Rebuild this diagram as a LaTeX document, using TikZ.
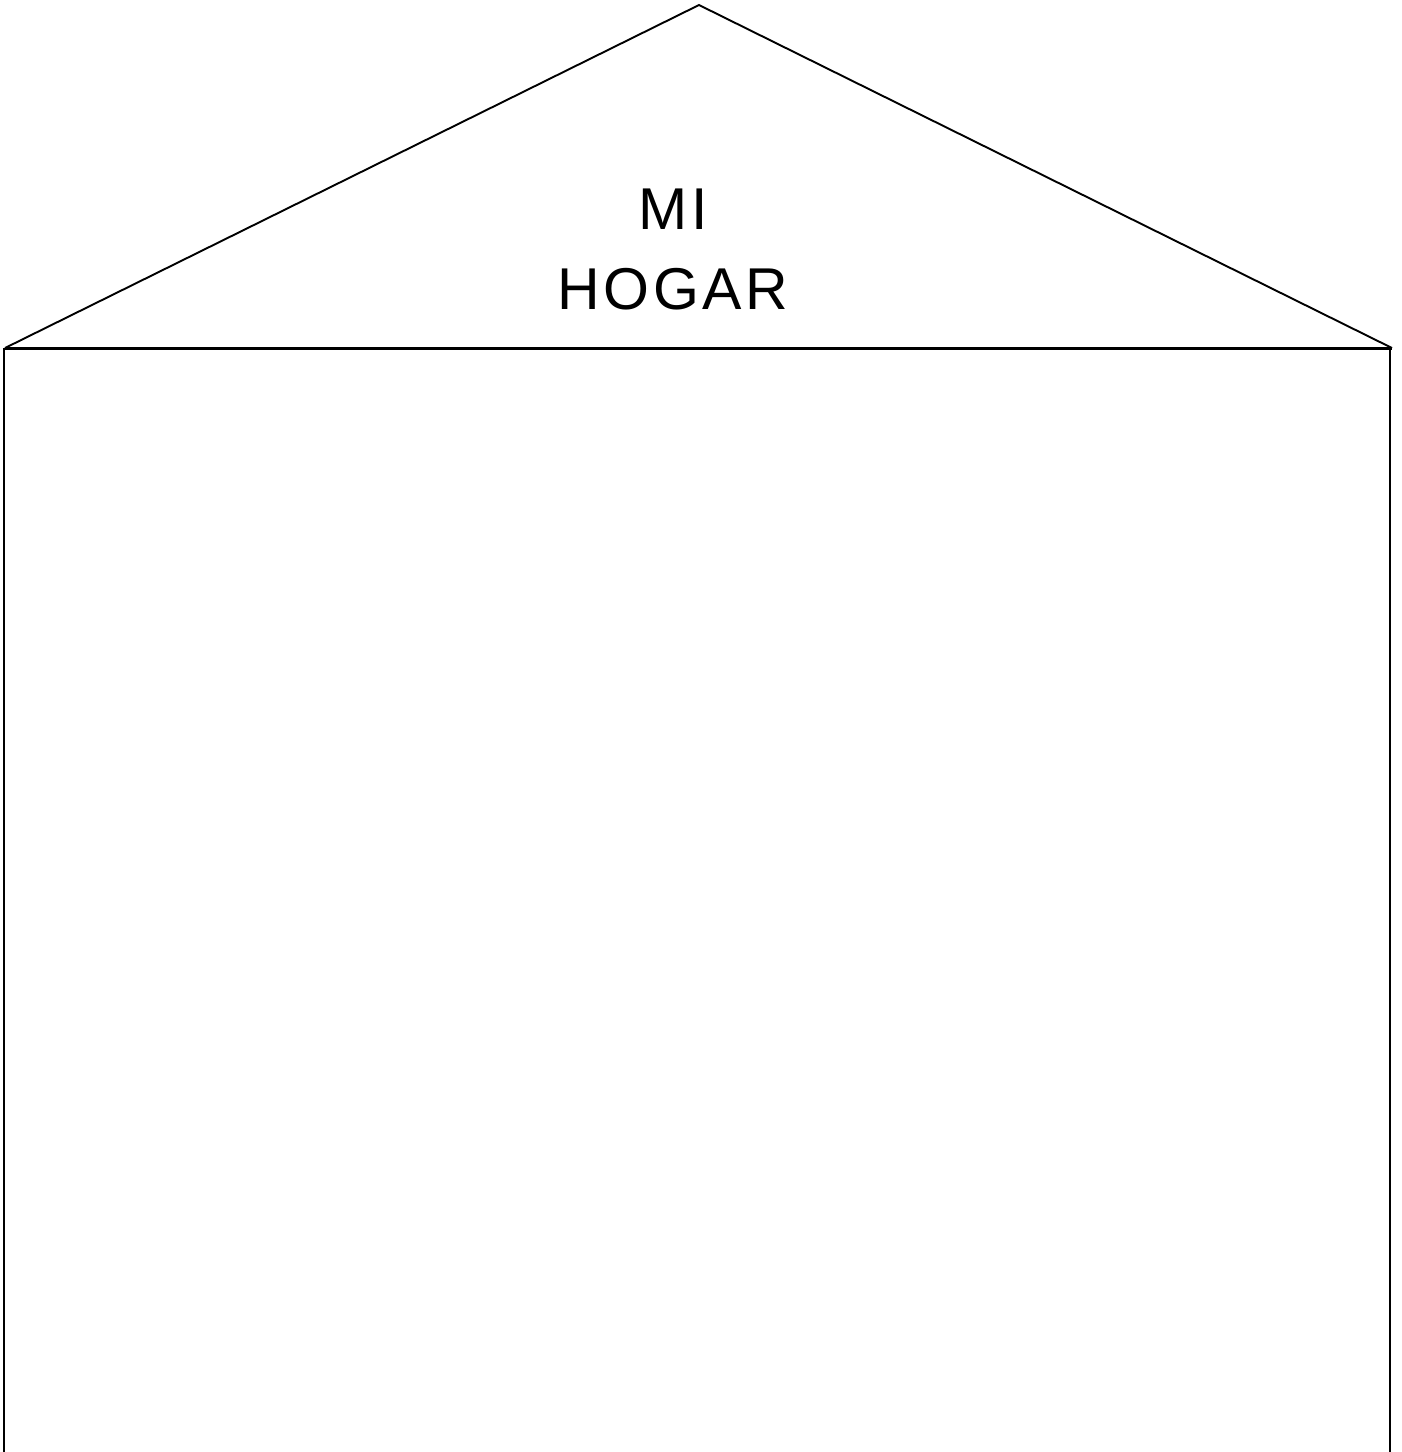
\documentclass[tikz,border=0pt]{standalone}
\usepackage{fontspec}
\setmainfont{Liberation Sans}[LetterSpace=6]
\begin{document}
\begin{tikzpicture}[x=1pt,y=-1pt,
  thinline/.style={line width=1.9pt,line join=miter},
  baseline/.style={line width=3pt},
  label/.style={font=\fontsize{59}{80}\selectfont,align=center,inner sep=0pt}]
\useasboundingbox (0,0) rectangle (1402,1452);
\coordinate (apex) at (699,5);
\coordinate (bl) at (5,348);
\coordinate (br) at (1392,348);
\draw[thinline] (bl) -- (apex) -- (br);
\draw[baseline] (bl) -- (br);
\draw[thinline] (4,348) -- (4,1452);
\draw[thinline] (1390,348) -- (1390,1452);
\node[label] (title) at (673,249) {MI\\HOGAR};
\end{tikzpicture}
\end{document}
